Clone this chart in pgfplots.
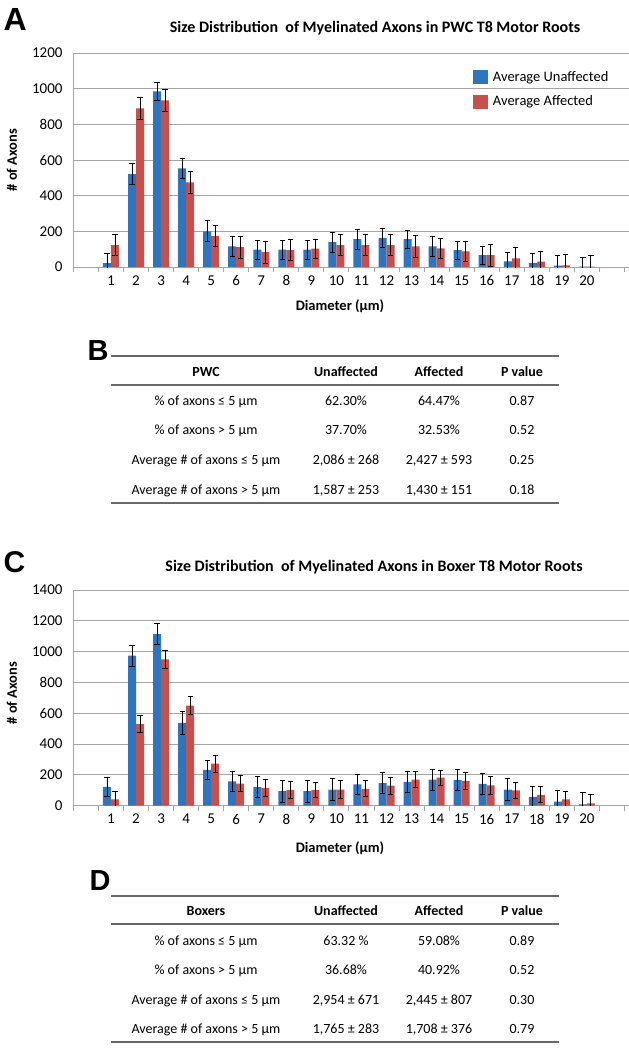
\documentclass[border=0pt]{standalone}
\usepackage{pgfplots}
\pgfplotsset{compat=1.18}
\usepackage{pgfplotstable}
\usepackage{fontspec}
\setmainfont{Carlito}
\newfontfamily\letterfont{Liberation Sans}

\definecolor{ublue}{RGB}{46,117,192}
\definecolor{ared}{RGB}{199,80,77}
\definecolor{gridgray}{RGB}{165,165,165}
\definecolor{rulegray}{RGB}{105,105,105}

% diameter, unaffected, error, affected, error
\pgfplotstableread{
d u ue a ae
1 22 53 122 60
2 521 59 890 63
3 985 52 934 60
4 553 58 474 62
5 200 59 174 58
6 116 58 112 62
7 97 53 84 62
8 97 53 94 60
9 97 53 103 54
10 139 56 122 60
11 156 56 122 60
12 163 53 122 60
13 156 50 116 60
14 116 58 105 56
15 94 52 88 58
16 66 52 66 63
17 32 51 49 58
18 22 53 30 56
19 8 54 9 62
20 2 54 2 62
}\pwc

\pgfplotstableread{
d u ue a ae
1 123 61 41 50
2 974 67 530 54
3 1114 70 950 56
4 537 73 649 59
5 232 64 273 54
6 158 67 143 52
7 121 69 115 56
8 95 72 102 56
9 95 72 102 49
10 104 73 104 60
11 138 68 110 52
12 147 67 130 56
13 154 67 169 52
14 169 67 182 50
15 167 69 162 54
16 141 67 132 58
17 104 73 100 51
18 58 65 71 52
19 26 74 41 52
20 9 75 15 61
}\boxer

\newcommand{\fs}[1]{\fontsize{#1bp}{#1bp}\selectfont}

\pgfplotsset{
  diam/.style={
    scale only axis, width=556bp,
    xmin=-0.517, xmax=21.68, ymin=0,
    ybar=0pt, bar width=8bp,
    axis x line*=bottom, axis y line*=left,
    axis line style={gridgray, line width=1bp},
    ymajorgrids, grid style={gridgray, line width=1bp},
    xtick={1,...,20},
    minor xtick={-0.5,0.5,...,21.5},
    major tick length=0pt, minor tick length=5bp, tick align=outside,
    tick style={gridgray, line width=1bp},
    /pgf/number format/assume math mode=true,
    /pgf/number format/1000 sep={},
    tick label style={font=\fs{15}},
    yticklabel style={xshift=-7bp},
    xticklabel style={yshift=-5bp},
    legend image code/.code={\fill[#1] (0bp,-7bp) rectangle (15bp,7bp);},
  },
  ebars/.style={
    error bars/.cd, y dir=both, y explicit,
    error bar style={draw=black, line width=0.9bp},
    error mark options={draw=black, line width=0.9bp, mark size=2.6bp, rotate=90}},
  uplot/.style={fill=ublue, draw=none, ebars},
  aplot/.style={fill=ared, draw=none, ebars},
}

\newcommand{\tabrow}[5]{%
  \node[anchor=base] at (206bp,#1) {#2};
  \node[anchor=base] at (346bp,#1) {#3};
  \node[anchor=base] at (439bp,#1) {#4};
  \node[anchor=base] at (522bp,#1) {#5};
}

\begin{document}
\begin{tikzpicture}
\path[use as bounding box] (0bp,0bp) rectangle (629bp,-1048bp);

% ---------- A ----------
\begin{axis}[diam, at={(73bp,-267bp)}, anchor=south west,
  height=214bp, ymax=1200, ytick={0,200,...,1200},
  legend style={at={(0.719,0.925)}, anchor=north west, draw=none, fill=none,
    font=\fs{14.5}, legend cell align=left, row sep=9bp, inner sep=0pt,
    nodes={inner xsep=5bp}}]
\addplot[uplot] table[x=d, y=u, y error=ue] {\pwc};
\addplot[aplot] table[x=d, y=a, y error=ae] {\pwc};
\legend{Average Unaffected, Average Affected}
\end{axis}

\node[anchor=base west, font=\letterfont\bfseries\fs{32}] at (0bp,-30bp) {A};
\node[font=\bfseries\fs{16}] at (375bp,-28bp) {Size Distribution\ \ of Myelinated Axons in PWC T8 Motor Roots};
\node[rotate=90, font=\bfseries\fs{14.5}] at (12bp,-160bp) {\# of Axons};
\node[font=\bfseries\fs{14.5}] at (340bp,-306bp) {Diameter (µm)};

% ---------- B ----------
\node[anchor=base west, font=\letterfont\bfseries\fs{29}] at (84bp,-360bp) {B};
\draw[rulegray, line width=1.4bp] (111bp,-356bp) -- (559bp,-356bp);
\draw[rulegray, line width=1.4bp] (111bp,-385bp) -- (559bp,-385bp);
\draw[rulegray, line width=1.4bp] (111bp,-503bp) -- (559bp,-503bp);
\begin{scope}[font=\fs{14}]
\begin{scope}[font=\bfseries\fs{14}]
\tabrow{-376bp}{PWC}{Unaffected}{Affected}{P value}
\end{scope}
\tabrow{-405bp}{\% of axons ≤ 5 µm}{62.30\%}{64.47\%}{0.87}
\tabrow{-434.5bp}{\% of axons > 5 µm}{37.70\%}{32.53\%}{0.52}
\tabrow{-464bp}{Average \# of axons ≤ 5 µm}{2,086 ± 268}{2,427 ± 593}{0.25}
\tabrow{-494bp}{Average \# of axons > 5 µm}{1,587 ± 253}{1,430 ± 151}{0.18}
\end{scope}

% ---------- C ----------
\begin{axis}[diam, at={(73bp,-805.7bp)}, anchor=south west,
  height=215.7bp, ymax=1400, ytick={0,200,...,1400}]
\addplot[uplot] table[x=d, y=u, y error=ue] {\boxer};
\addplot[aplot] table[x=d, y=a, y error=ae] {\boxer};
\end{axis}

\node[anchor=base west, font=\letterfont\bfseries\fs{30}] at (0bp,-572bp) {C};
\node[font=\bfseries\fs{16}] at (374bp,-567bp) {Size Distribution\ \ of Myelinated Axons in Boxer T8 Motor Roots};
\node[rotate=90, font=\bfseries\fs{14.5}] at (12bp,-693bp) {\# of Axons};
\node[font=\bfseries\fs{14.5}] at (340bp,-848bp) {Diameter (µm)};

% ---------- D ----------
\node[anchor=base west, font=\letterfont\bfseries\fs{29}] at (86bp,-890bp) {D};
\draw[rulegray, line width=1.4bp] (111bp,-896bp) -- (559bp,-896bp);
\draw[rulegray, line width=1.4bp] (111bp,-924bp) -- (559bp,-924bp);
\draw[rulegray, line width=1.4bp] (111bp,-1042bp) -- (559bp,-1042bp);
\begin{scope}[font=\fs{14}]
\begin{scope}[font=\bfseries\fs{14}]
\tabrow{-915bp}{Boxers}{Unaffected}{Affected}{P value}
\end{scope}
\tabrow{-945bp}{\% of axons ≤ 5 µm}{63.32 \%}{59.08\%}{0.89}
\tabrow{-974bp}{\% of axons > 5 µm}{36.68\%}{40.92\%}{0.52}
\tabrow{-1004bp}{Average \# of axons ≤ 5 µm}{2,954 ± 671}{2,445 ± 807}{0.30}
\tabrow{-1033bp}{Average \# of axons > 5 µm}{1,765 ± 283}{1,708 ± 376}{0.79}
\end{scope}
\end{tikzpicture}
\end{document}
